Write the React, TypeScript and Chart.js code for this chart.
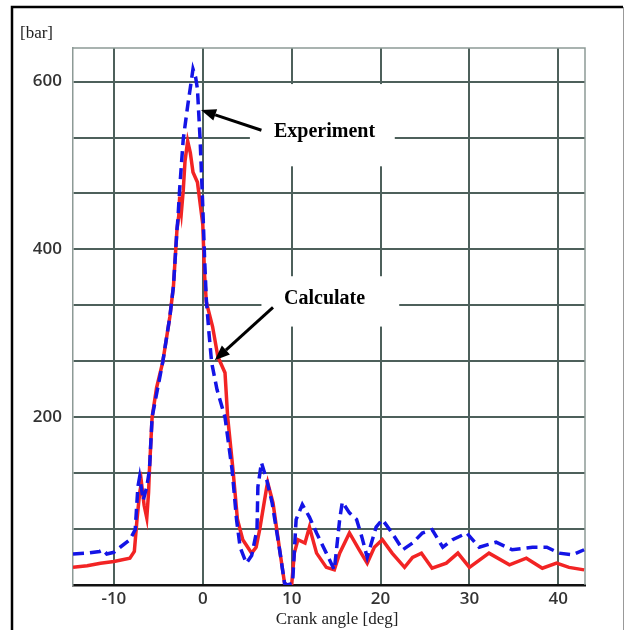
import React, { useEffect, useRef } from "react";
import { Chart, registerables } from "chart.js";

Chart.register(...registerables);

// Experiment (blue dashed)
const expAngle = [-14.6, -13, -11.6, -11.2, -10.8, -10.0, -9.3, -8.2, -7.6, -7.3, -7.1, -6.7, -6.3, -6.0, -5.7, -4.5, -3.7, -3.3, -2.9, -2.8, -2.6, -2.2, -1.7, -1.3, -1.1, -0.8, -0.6, -0.3, 0, 0.2, 0.4, 0.7, 1.0, 1.6, 2.5, 3.3, 3.8, 4.2, 4.9, 5.5, 6.1, 6.2, 6.6, 7.2, 7.8, 8.7, 9.2, 9.5, 10.1, 10.5, 11.2, 12.0, 12.8, 13.9, 14.8, 15.4, 15.7, 16.5, 17.3, 17.9, 18.5, 19.5, 20.2, 21.3, 22.5, 23.6, 24.7, 25.8, 27.0, 28.1, 29.7, 31.1, 33.0, 34.8, 37.1, 38.7, 40.1, 41.6, 42.9];
const expValue = [37, 38, 40, 42, 37, 39, 45, 54, 66, 117, 129, 101, 117, 137, 200, 266, 320, 356, 424, 436, 472, 531, 571, 600, 615, 605, 591, 531, 451, 390, 340, 300, 265, 233, 200, 137, 78, 45, 26, 35, 66, 117, 146, 125, 98, 38, 2, 0, 2, 78, 96, 81, 62, 38, 18, 78, 99, 86, 78, 57, 33, 69, 78, 62, 42, 50, 62, 66, 45, 54, 62, 45, 51, 42, 45, 45, 38, 36, 42];

// Calculate (red solid)
const calcAngle = [-14.6, -13, -11.5, -10, -8.2, -7.7, -7.4, -7.1, -6.9, -6.6, -6.3, -6.1, -6.0, -5.7, -5.2, -4.5, -3.7, -3.3, -2.9, -2.7, -2.6, -2.4, -2.2, -2.0, -1.7, -1.4, -1.1, -0.6, 0, 0.2, 0.4, 1.1, 1.7, 2.5, 2.8, 3.4, 3.9, 4.5, 5.5, 6.0, 6.4, 7.2, 7.3, 7.9, 8.7, 9.2, 9.5, 10.0, 10.3, 10.7, 11.5, 12.0, 12.8, 13.9, 14.8, 15.4, 16.5, 17.6, 18.5, 19.3, 20.2, 21.3, 22.7, 23.6, 24.6, 25.8, 27.4, 28.7, 30, 32.2, 34.5, 36.4, 38.2, 39.8, 41.2, 42.9];
const calcValue = [21, 23, 26, 28, 32, 40, 78, 110, 122, 95, 80, 110, 137, 200, 235, 266, 320, 356, 424, 440, 463, 445, 470, 505, 529, 515, 492, 480, 430, 370, 337, 308, 272, 253, 200, 137, 78, 54, 38, 45, 66, 117, 122, 98, 38, 2, 0, 0, 38, 54, 50, 69, 38, 21, 18, 38, 62, 42, 26, 45, 54, 38, 21, 33, 38, 20, 26, 38, 21, 38, 24, 32, 20, 26, 21, 18];

const xTicks = [-10, 0, 10, 20, 30, 40];
const yGrid = [0, 66.67, 133.33, 200, 266.67, 333.33, 400, 466.67, 533.33, 600];
const yLabels = [200, 400, 600];

const X_MIN = -14.6;
const X_MAX = 43;
const Y_MAX = 640;

const labels = [
  { text: "Experiment", x: 13.7, y: 540, box: [5.3, 21.6, 597, 499], tail: [6.6, 542], tip: [-0.2, 566] },
  { text: "Calculate", x: 13.7, y: 341, box: [6.6, 22.1, 368, 308], tail: [7.9, 331], tip: [1.35, 268] },
];

const overlay = {
  id: "overlay",
  beforeDatasetsDraw(chart: any) {
    const { ctx, scales } = chart;
    const xs = scales.x, ys = scales.y;
    const area = chart.chartArea;
    ctx.save();
    // plot frame top/right
    ctx.strokeStyle = "#8d9a96";
    ctx.lineWidth = 1.5;
    ctx.beginPath();
    ctx.moveTo(area.left, area.top);
    ctx.lineTo(area.right, area.top);
    ctx.lineTo(area.right, area.bottom);
    ctx.stroke();
    // white label boxes
    ctx.fillStyle = "#ffffff";
    for (const l of labels) {
      const x1 = xs.getPixelForValue(l.box[0]);
      const x2 = xs.getPixelForValue(l.box[1]);
      const y1 = ys.getPixelForValue(l.box[2]);
      const y2 = ys.getPixelForValue(l.box[3]);
      ctx.fillRect(x1, y1, x2 - x1, y2 - y1);
    }
    ctx.restore();
  },
  afterDatasetsDraw(chart: any) {
    const { ctx, scales } = chart;
    const xs = scales.x, ys = scales.y;
    ctx.save();
    for (const l of labels) {
      ctx.fillStyle = "#000";
      ctx.font = "bold 20px 'Liberation Serif', 'Times New Roman', serif";
      ctx.textAlign = "center";
      ctx.textBaseline = "middle";
      ctx.fillText(l.text, xs.getPixelForValue(l.x), ys.getPixelForValue(l.y));
      const tx = xs.getPixelForValue(l.tail[0]);
      const ty = ys.getPixelForValue(l.tail[1]);
      const px = xs.getPixelForValue(l.tip[0]);
      const py = ys.getPixelForValue(l.tip[1]);
      const ang = Math.atan2(py - ty, px - tx);
      const hl = 15, hw = 6;
      const bx = px - hl * Math.cos(ang);
      const by = py - hl * Math.sin(ang);
      ctx.strokeStyle = "#000";
      ctx.lineWidth = 3;
      ctx.beginPath();
      ctx.moveTo(tx, ty);
      ctx.lineTo(bx, by);
      ctx.stroke();
      ctx.beginPath();
      ctx.moveTo(px, py);
      ctx.lineTo(bx + hw * Math.sin(ang), by - hw * Math.cos(ang));
      ctx.lineTo(bx - hw * Math.sin(ang), by + hw * Math.cos(ang));
      ctx.closePath();
      ctx.fillStyle = "#000";
      ctx.fill();
    }
    // axis captions
    ctx.fillStyle = "#222";
    ctx.font = "17px 'Liberation Serif', 'Times New Roman', serif";
    ctx.textAlign = "center";
    ctx.textBaseline = "middle";
    ctx.fillText("Crank angle [deg]", 337, 620);
    ctx.textAlign = "left";
    ctx.font = "17px 'Liberation Serif', 'Times New Roman', serif";
    ctx.fillText("[bar]", 20, 34);
    // outer frame
    ctx.strokeStyle = "#000";
    ctx.lineWidth = 2.5;
    ctx.beginPath();
    ctx.moveTo(12, 640);
    ctx.lineTo(12, 7);
    ctx.lineTo(623, 7);
    ctx.stroke();
    ctx.strokeStyle = "#999";
    ctx.lineWidth = 1;
    ctx.beginPath();
    ctx.moveTo(623.5, 7);
    ctx.lineTo(623.5, 640);
    ctx.stroke();
    ctx.restore();
  },
};

export default function App() {
  const ref = useRef<HTMLCanvasElement | null>(null);
  useEffect(() => {
    if (!ref.current) return;
    const chart = new Chart(ref.current, {
      type: "line",
      data: {
        datasets: [
          {
            label: "Experiment",
            data: expAngle.map((a, i) => ({ x: a, y: expValue[i] })),
            borderColor: "#1414e6",
            borderWidth: 3.5,
            borderDash: [11, 6],
            pointRadius: 0,
            tension: 0,
            fill: false,
          },
          {
            label: "Calculate",
            data: calcAngle.map((a, i) => ({ x: a, y: calcValue[i] })),
            borderColor: "#f22424",
            borderWidth: 3.5,
            pointRadius: 0,
            tension: 0,
            fill: false,
          },
        ],
      },
      options: {
        responsive: false,
        animation: false,
        maintainAspectRatio: false,
        layout: { padding: { left: 0, top: 48, right: 40, bottom: 0 } },
        plugins: { legend: { display: false }, tooltip: { enabled: false }, title: { display: false } },
        scales: {
          x: {
            type: "linear",
            min: X_MIN,
            max: X_MAX,
            afterBuildTicks: (s: any) => { s.ticks = xTicks.map((v) => ({ value: v })); },
            afterFit: (s: any) => { s.height = 45; },
            ticks: {
              autoSkip: false,
              padding: 4,
              color: "#333",
              font: { family: "'Open Sans', 'DejaVu Sans', sans-serif", size: 17, weight: "600" },
              callback: (v: any) => String(v),
            },
            grid: { color: "#4d605b", lineWidth: 2, drawTicks: false },
            border: { display: true, color: "#111", width: 2.5 },
          },
          y: {
            type: "linear",
            min: 0,
            max: Y_MAX,
            afterBuildTicks: (s: any) => { s.ticks = yGrid.map((v) => ({ value: v })); },
            afterFit: (s: any) => { s.width = 73; },
            ticks: {
              autoSkip: false,
              padding: 11,
              color: "#333",
              font: { family: "'Open Sans', 'DejaVu Sans', sans-serif", size: 17, weight: "600" },
              callback: (v: any) => (yLabels.includes(Math.round(v)) ? String(Math.round(v)) : ""),
            },
            grid: { color: "#4d605b", lineWidth: 2, drawTicks: false },
            border: { display: true, color: "#8d9a96", width: 1.5 },
          },
        },
      },
      plugins: [overlay],
    });
    return () => chart.destroy();
  }, []);
  return (
    <div style={{ position: "fixed", left: 0, top: 0, width: 625, height: 630, background: "#fff" }}>
      <canvas ref={ref} width={625} height={630} style={{ display: "block", width: 625, height: 630 }} />
    </div>
  );
}
